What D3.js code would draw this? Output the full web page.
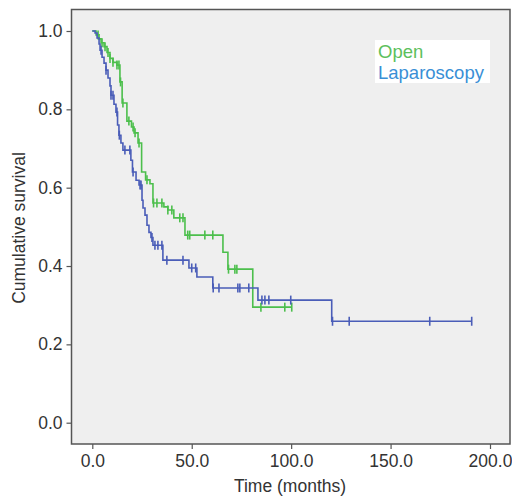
<!DOCTYPE html>
<html>
<head>
<meta charset="utf-8">
<script src="https://cdn.jsdelivr.net/npm/d3@7"></script>
<style>
  body { margin: 0; background: #fff; }
  svg { display: block; }
  text { font-family: "Liberation Sans", Arial, Helvetica, sans-serif; }
</style>
</head>
<body>
<svg width="512" height="496"></svg>
<script>
// Kaplan-Meier steps: [time, survival after the drop]
var openSteps = [[1.9,0.99],[3.4,0.98],[4.4,0.97],[5.9,0.96],[7.4,0.945],[8.9,0.93],[10.4,0.92],
  [12.4,0.913],[13.9,0.87],[15.0,0.816],[17.4,0.77],[19.7,0.755],[21,0.74],[23,0.714],[24.8,0.64],
  [26.8,0.62],[29,0.61],[30.5,0.561],[36,0.551],[38,0.543],[41,0.523],[46.6,0.479],[65.7,0.435],
  [68.2,0.392],[80.7,0.295]];
var openCensor = [2.9,4.9,6.4,7.9,8.9,10.4,12.4,13.4,14.2,15.4,18.4,20.5,21.5,23.5,27.5,30.8,32.5,35,
  38,40,44,45.6,48,49,56.6,60.6,68.5,71.7,72.7,84.8,96.8,100.3];

var lapSteps = [[1.4,0.995],[2.4,0.982],[3.4,0.967],[3.9,0.951],[4.9,0.933],[5.9,0.918],[6.9,0.9],
  [7.9,0.88],[8.9,0.86],[9.4,0.836],[10.9,0.813],[11.9,0.793],[12.7,0.76],[13.4,0.734],[14.4,0.714],
  [15.4,0.696],[19.4,0.67],[20.2,0.64],[22,0.619],[23.5,0.607],[25,0.568],[25.5,0.548],[26.5,0.53],
  [27.5,0.504],[28.5,0.486],[29.5,0.473],[30.5,0.453],[35.5,0.415],[48.6,0.395],[52.6,0.372],
  [60.6,0.344],[83.3,0.313],[120.4,0.259]];
var lapCensor = [4.4,6.9,9.4,10.4,12.4,13.6,16.4,18.9,20.5,24,24.5,30,31.5,33,35,37.5,45.6,50,52,
  60.8,63.7,73.2,74.2,78.7,85.3,86.8,88.8,99.8,120.8,129.2,169.7,190.8];

var xTicks = [0, 50, 100, 150, 200];
var yTicks = [0, 0.2, 0.4, 0.6, 0.8, 1.0];

var svg = d3.select("svg");
var x = d3.scaleLinear().domain([0, 200]).range([92.3, 490]);
var y = d3.scaleLinear().domain([0, 1]).range([422.7, 31]);

// plot panel
svg.append("rect").attr("x", 71.5).attr("y", 9.5).attr("width", 438.5).attr("height", 434.5)
  .attr("fill", "#efefef").attr("stroke", "#555").attr("stroke-width", 1.5);

// axes
var yAxis = svg.append("g").attr("transform", "translate(71.5,0)")
  .call(d3.axisLeft(y).tickValues(yTicks).tickFormat(d3.format(".1f")).tickSize(5).tickPadding(4));
var xAxis = svg.append("g").attr("transform", "translate(0,444)")
  .call(d3.axisBottom(x).tickValues(xTicks).tickFormat(d3.format(".1f")).tickSize(5).tickPadding(6));
[yAxis, xAxis].forEach(function(g){
  g.select(".domain").remove();
  g.selectAll("line").attr("stroke", "#555").attr("stroke-width", 1.2);
  g.selectAll("text").attr("font-size", 17.5).attr("fill", "#333")
    .style("font-family", "'Liberation Sans', Arial, sans-serif");
});

svg.append("text").attr("x", 290).attr("y", 492).attr("text-anchor", "middle")
  .attr("font-size", 17.5).attr("fill", "#333").text("Time (months)");
svg.append("text").attr("transform", "translate(25,228) rotate(-90)").attr("text-anchor", "middle")
  .attr("font-size", 17.5).attr("fill", "#333").text("Cumulative survival");

function survAt(steps, t){
  var s = 1;
  steps.forEach(function(d){ if (d[0] <= t) s = d[1]; });
  return s;
}

function drawCurve(steps, censor, color){
  var last = Math.max(d3.max(censor), steps[steps.length-1][0]);
  var pts = [[0, 1]].concat(steps).concat([[last, steps[steps.length-1][1]]]);
  var line = d3.line().x(function(d){ return x(d[0]); }).y(function(d){ return y(d[1]); })
    .curve(d3.curveStepAfter);
  svg.append("path").datum(pts).attr("d", line).attr("fill", "none")
    .attr("stroke", color).attr("stroke-width", 1.6);
  svg.selectAll(null).data(censor).enter().append("line")
    .attr("x1", function(d){ return x(d); }).attr("x2", function(d){ return x(d); })
    .attr("y1", function(d){ return y(survAt(steps, d)) - 4.5; })
    .attr("y2", function(d){ return y(survAt(steps, d)) + 4.5; })
    .attr("stroke", color).attr("stroke-width", 1.6);
}

drawCurve(openSteps, openCensor, "#4cbf4c");
drawCurve(lapSteps, lapCensor, "#4a5db8");

// legend
svg.append("rect").attr("x", 375).attr("y", 40).attr("width", 115).attr("height", 43).attr("fill", "#fff");
svg.append("text").attr("x", 378).attr("y", 58).attr("font-size", 18.5).attr("fill", "#5cc05c").text("Open");
svg.append("text").attr("x", 378).attr("y", 79).attr("font-size", 18.5).attr("fill", "#3a8fd6").text("Laparoscopy");
</script>
</body>
</html>
